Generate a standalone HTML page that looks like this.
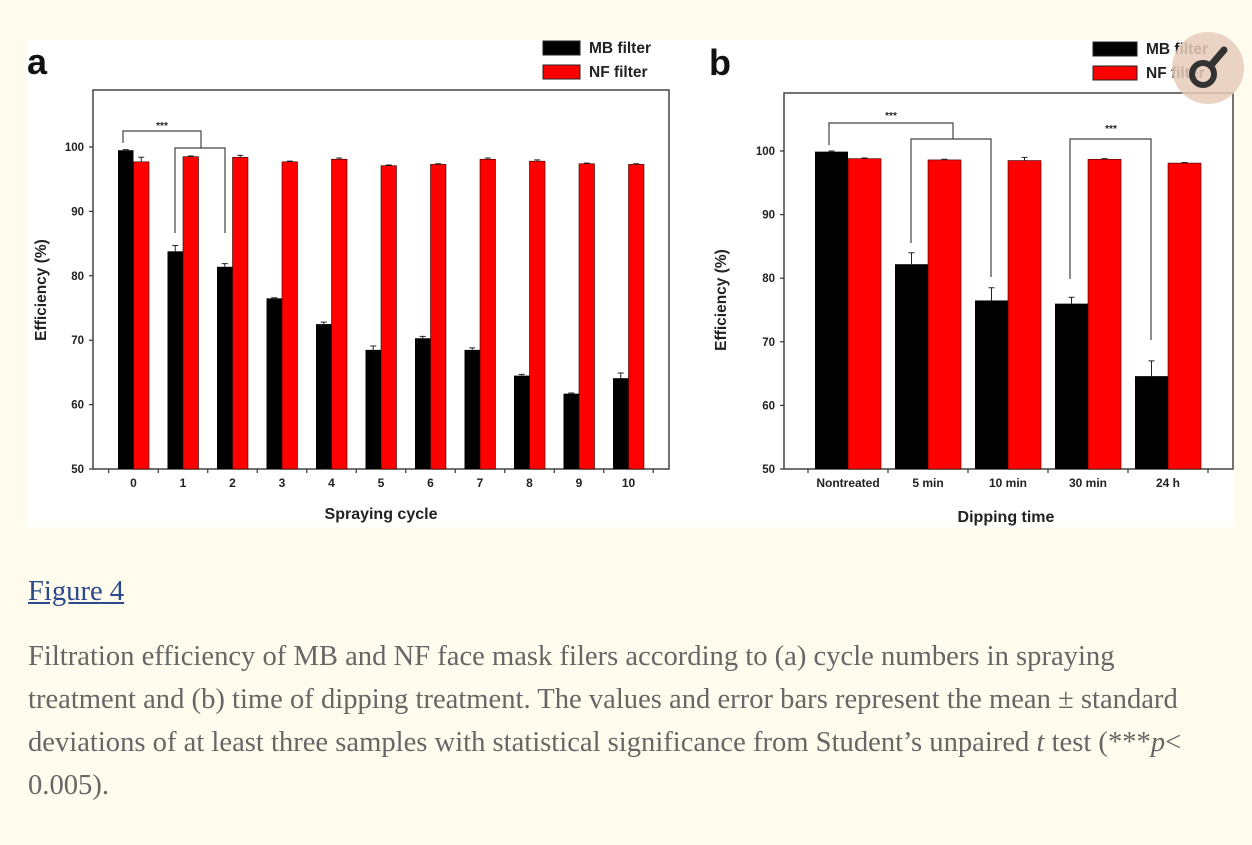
<!DOCTYPE html>
<html><head><meta charset="utf-8">
<style>
html,body{margin:0;padding:0;background:#fffcee;width:1252px;height:845px;overflow:hidden}
svg{position:absolute;left:0;top:0}
text{font-family:"Liberation Sans",sans-serif;font-weight:bold}
#fig-link{position:absolute;left:28px;top:576px;font:28.6px "Liberation Serif",serif;color:#2b4a8b;text-decoration:underline}
#caption{position:absolute;left:28px;top:635px;font:28.6px/43px "Liberation Serif",serif;color:#666;margin:0;white-space:nowrap}
</style></head><body>
<svg id="svg" width="1252" height="845">
<rect x="28" y="40" width="1206" height="487" fill="#fff"/>
<g id="ga"></g>
<g id="gb"></g>
</svg>
<a id="fig-link" href="#">Figure 4</a>
<p id="caption">Filtration efficiency of MB and NF face mask filers according to (a) cycle numbers in spraying<br>treatment and (b) time of dipping treatment. The values and error bars represent the mean ± standard<br>deviations of at least three samples with statistical significance from Student’s unpaired <i>t</i> test (***<i>p</i>&lt;<br>0.005).</p>
<script>
const catsA=["0","1","2","3","4","5","6","7","8","9","10"];
const mbA=[99.5,83.8,81.4,76.5,72.5,68.5,70.3,68.5,64.5,61.7,64.1];
const mbErrA=[0.1,0.9,0.5,0.1,0.3,0.6,0.3,0.3,0.2,0.1,0.8];
const nfA=[97.7,98.5,98.4,97.7,98.1,97.1,97.3,98.1,97.8,97.4,97.3];
const nfErrA=[0.7,0.1,0.3,0.1,0.2,0.1,0.1,0.2,0.2,0.1,0.1];
const catsB=["Nontreated","5 min","10 min","30 min","24 h"];
const mbB=[99.9,82.2,76.5,76.0,64.6];
const mbErrB=[0.1,1.8,2.0,1.0,2.4];
const nfB=[98.8,98.6,98.5,98.7,98.1];
const nfErrB=[0.1,0.1,0.5,0.1,0.1];
const yTicks=[50,60,70,80,90,100];
const NS="http://www.w3.org/2000/svg";
function mk(p,tag,at,txt){const e=document.createElementNS(NS,tag);for(const k in at)e.setAttribute(k,at[k]);if(txt!=null)e.textContent=txt;p.appendChild(e);return e;}

function panel(g,o){
  const y=v=>o.y50-(v-50)*(o.y50-o.y100)/50;
  const cx=i=>o.c0+i*o.step;
  mk(g,'rect',{x:o.L,y:o.T,width:o.R-o.L,height:o.B-o.T,fill:'none',stroke:'#444','stroke-width':1.5});
  yTicks.forEach(t=>{
    const l=mk(g,'line',{x1:o.L-4,x2:o.L,y1:y(t),y2:y(t),stroke:'#333','stroke-width':1.2});
    
    const tx=mk(g,'text',{x:o.L-9,y:y(t)+4,'text-anchor':'end','font-size':11.5,fill:'#222'},t);
    
    
  });
  for(let i=0;i<=o.cats.length;i++){
    const xx=cx(i)-o.step/2;
    mk(g,'line',{x1:xx,x2:xx,y1:o.B,y2:o.B+4,stroke:'#333','stroke-width':1.2});
  }
  o.cats.forEach((c,i)=>{
    const bm=mk(g,'rect',{x:cx(i)-o.bw,y:y(o.mb[i]),width:o.bw,height:y(50)-y(o.mb[i]),fill:'#000'});
    
    
    const bn=mk(g,'rect',{x:cx(i),y:y(o.nf[i]),width:o.bw,height:y(50)-y(o.nf[i]),fill:'#f00',stroke:'#300','stroke-width':0.6});
    
    
    [[cx(i)-o.bw/2,o.mb[i],o.mbE[i]],[cx(i)+o.bw/2,o.nf[i],o.nfE[i]]].forEach(([x,v,e])=>{
      const eb=mk(g,'path',{d:`M${x},${y(v)}V${y(v+e)}M${x-3},${y(v+e)}H${x+3}`,stroke:'#222','stroke-width':1,fill:'none'});
      
    });
    const lb=mk(g,'text',{x:cx(i),y:o.B+18,'text-anchor':'middle','font-size':12,fill:'#222'},c);
    
    
  });
  o.brackets.forEach(b=>{
    const p=mk(g,'path',{d:b,stroke:'#444','stroke-width':1.2,fill:'none'});
    
  });
  o.stars.forEach(s=>{
    const t=mk(g,'text',{x:s[0],y:s[1],'text-anchor':'middle','font-size':10,fill:'#222'},'***');
    
  });
  const yl=mk(g,'text',{x:0,y:0,transform:`translate(${o.ylx},${o.yly}) rotate(-90)`,'text-anchor':'middle','font-size':15.5,fill:'#222'},'Efficiency (%)');
  
  const xl=mk(g,'text',{x:o.xlx,y:o.xly,'text-anchor':'middle','font-size':16,fill:'#222'},o.xt);
  
  const pl=mk(g,'text',{x:o.px,y:o.py,'font-size':36,fill:'#111'},o.pl);
  
  [['MB filter','#000',o.lgy],['NF filter','#f00',o.lgy+24]].forEach(([n,c,yy])=>{
    const r=mk(g,'rect',{x:o.lgx,y:yy,width:o.lgw,height:14,fill:c,stroke:'#222','stroke-width':1});
    
    const t=mk(g,'text',{x:o.lgx+o.lgw+9,y:yy+12,'font-size':15.5,fill:'#222'},n);
    
  });
}
panel(document.getElementById('ga'),{cats:catsA,mb:mbA,mbE:mbErrA,nf:nfA,nfE:nfErrA,
  L:93,R:669,T:90,B:469,y50:469,y100:147,c0:133.5,step:49.5,bw:15.5,
  brackets:["M123,143V131H201V148","M175,233V148H225V233"],stars:[[162,129]],
  ylx:46,yly:290,xlx:381,xly:519,xt:'Spraying cycle',px:27,py:74,pl:'a',lgx:543,lgy:41,lgw:37});
panel(document.getElementById('gb'),{cats:catsB,mb:mbB,mbE:mbErrB,nf:nfB,nfE:nfErrB,
  L:784,R:1233,T:93,B:469,y50:469,y100:151,c0:848,step:80,bw:33,
  brackets:["M829,145V123H953V139","M911,243V139H991V277","M1070,279V139H1151V340"],stars:[[891,119],[1111,132]],
  ylx:726,yly:300,xlx:1006,xly:522,xt:'Dipping time',px:709,py:75,pl:'b',lgx:1093,lgy:42,lgw:44});
const svg=document.getElementById('svg');
const ov=mk(svg,'circle',{cx:1208,cy:68,r:36,fill:'#e8cbb8',opacity:0.85});


const ic=mk(svg,'circle',{cx:1203,cy:74,r:11,fill:'none',stroke:'#333','stroke-width':6});


mk(svg,'line',{x1:1212,y1:64,x2:1224,y2:50,stroke:'#333','stroke-width':7,'stroke-linecap':'round'});
</script>
</body></html>
